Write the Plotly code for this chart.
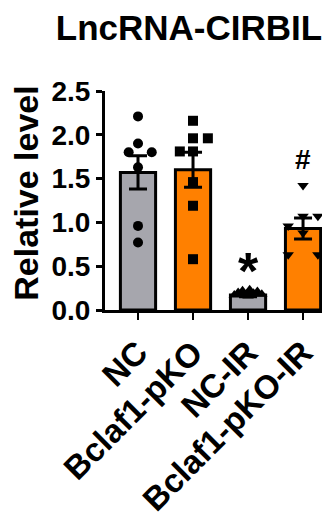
import plotly.graph_objects as go

categories = ["NC", "Bclaf1-pKO", "NC-IR", "Bclaf1-pKO-IR"]
means = [1.57, 1.60, 0.17, 0.93]
sems = [0.19, 0.20, 0.02, 0.12]
bar_colors = ["#A6A6AD", "#FF8000", "#A6A6AD", "#FF8000"]

nc_vals = [2.21, 1.90, 1.80, 1.80, 1.63, 0.96, 0.77]
nc_jit = [0.0, 0.0, -0.17, 0.25, 0.0, 0.0, 0.0]
ko_vals = [2.16, 1.96, 1.96, 1.81, 1.81, 1.46, 1.19, 0.58]
ko_jit = [0.0, 0.0, 0.27, -0.24, 0.0, 0.0, 0.0, 0.0]
ir_vals = [0.17, 0.20, 0.22, 0.18, 0.23, 0.19, 0.21, 0.18, 0.16]
ir_jit = [-0.25, -0.18, -0.10, -0.03, 0.03, 0.10, 0.17, 0.25, 0.0]
koir_vals = [1.42, 1.07, 1.07, 0.96, 0.88, 0.63, 0.63]
koir_jit = [0.0, 0.27, 0.0, -0.27, 0.0, -0.27, 0.27]

point_sets = [
    (nc_vals, nc_jit, "circle"),
    (ko_vals, ko_jit, "square"),
    (ir_vals, ir_jit, "triangle-up"),
    (koir_vals, koir_jit, "triangle-down"),
]

sig_labels = ["", "", "*", "#"]
sig_y = [None, None, 0.45, 1.72]
sig_size = [0, 0, 52, 28]

yticks = [0.0, 0.5, 1.0, 1.5, 2.0, 2.5]
FONT = "Liberation Sans"

# the page body has an 8px default margin, so the figure is drawn 8px smaller
W, H = 322, 509

fig = go.Figure()
xs = list(range(len(categories)))

fig.add_trace(go.Bar(
    x=xs, y=means, width=0.64,
    marker=dict(color=bar_colors, line=dict(color="black", width=3)),
    error_y=dict(type="data", array=sems, visible=True, color="black", thickness=3, width=9),
    showlegend=False,
))

for i, (vals, jit, sym) in enumerate(point_sets):
    fig.add_trace(go.Scatter(
        x=[i + j for j in jit], y=vals, mode="markers",
        marker=dict(symbol=sym, size=10, color="black"),
        showlegend=False, cliponaxis=False,
    ))

annotations = []
for i, lab in enumerate(sig_labels):
    if lab:
        annotations.append(dict(x=i, y=sig_y[i], xref="x", yref="y", text="<b>%s</b>" % lab,
                                showarrow=False, font=dict(family=FONT, size=sig_size[i], color="black"),
                                xanchor="center", yanchor="middle"))
annotations.append(dict(x=-0.35, y=0.532, xref="paper", yref="paper", text="<b>Relative level</b>",
                        textangle=-90, showarrow=False, xanchor="center", yanchor="middle",
                        font=dict(family=FONT, size=34, color="black")))

fig.update_layout(
    width=W, height=H,
    margin=dict(l=97, r=0, t=83, b=207, autoexpand=False),
    paper_bgcolor="white", plot_bgcolor="white",
    title=dict(text="<b>LncRNA-CIRBIL</b>", x=181 / W, xanchor="center", y=1 - 20 / H, yanchor="middle",
               font=dict(family=FONT, size=35, color="black"), automargin=False),
    annotations=annotations,
    bargap=0.36,
)
fig.update_xaxes(
    range=[-0.6, 3.49], tickmode="array", tickvals=xs, ticktext=["<b>%s</b>" % c for c in categories],
    tickangle=-45, tickfont=dict(family=FONT, size=33, color="black"), automargin=False,
    showline=True, linecolor="black", linewidth=3, ticks="outside", ticklen=7, tickwidth=2,
    tickcolor="black", showgrid=False, zeroline=False,
)
fig.update_yaxes(
    range=[0, 2.5], tickmode="array", tickvals=yticks, ticktext=["<b>%.1f</b>" % v for v in yticks],
    tickfont=dict(family=FONT, size=28, color="black"), automargin=False,
    showline=True, linecolor="black", linewidth=3, ticks="outside", ticklen=6, tickwidth=2.5,
    tickcolor="black", showgrid=False, zeroline=False,
)

fig.write_html("out.html")
